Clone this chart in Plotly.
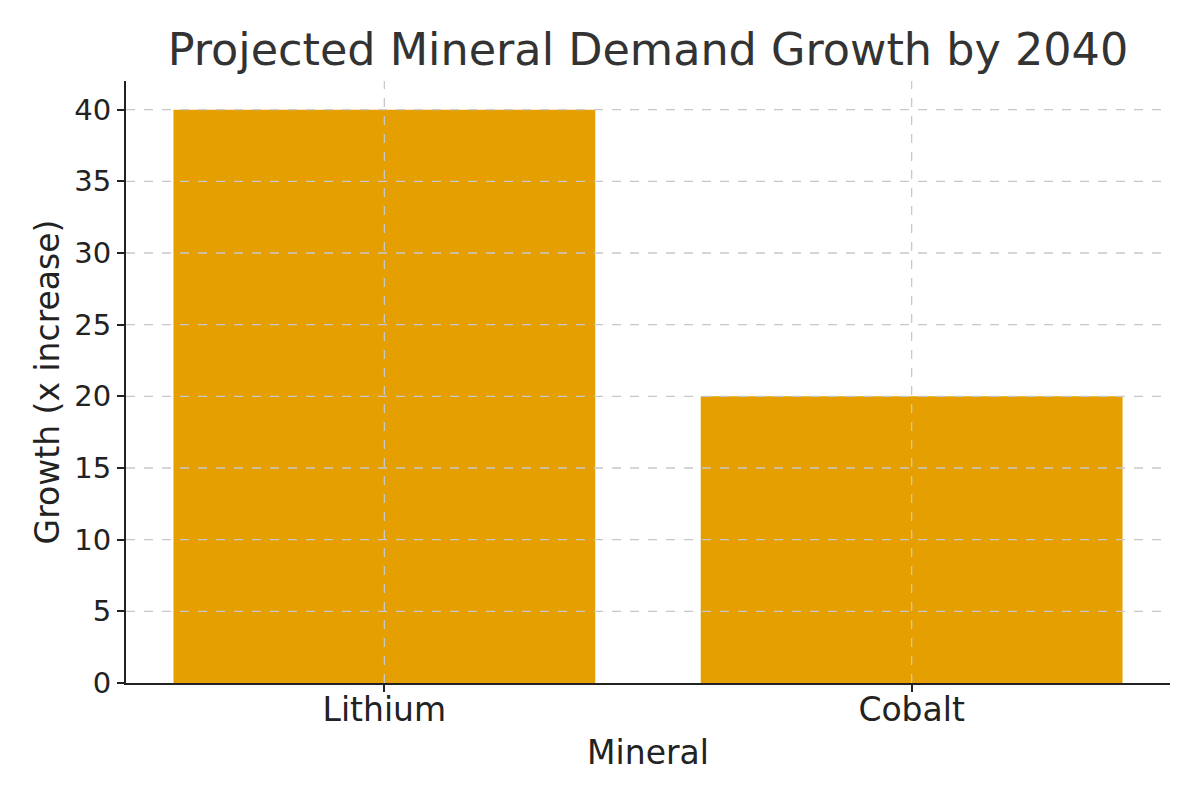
import plotly.graph_objects as go

minerals = ["Lithium", "Cobalt"]
growth = [40, 20]
y_ticks = [0, 5, 10, 15, 20, 25, 30, 35, 40]

grid = dict(color="#c8c8c8", width=1.3, dash="dash")

fig = go.Figure(go.Bar(
    x=minerals,
    y=growth,
    marker=dict(color="#E69F00", line=dict(width=0)),
    width=0.8,
))

# matplotlib draws the grid over the bars, so add it as shapes on top
shapes = []
for t in y_ticks[1:]:
    shapes.append(dict(type="line", xref="paper", yref="y", x0=0, x1=1, y0=t, y1=t,
                       line=grid, layer="above"))
for m in minerals:
    shapes.append(dict(type="line", xref="x", yref="paper", x0=m, x1=m, y0=0, y1=1,
                       line=grid, layer="above"))

# page has an 8px body margin, so offsets are pulled in by 8
fig.update_layout(
    width=1200, height=800,
    margin=dict(l=118, r=38, t=73, b=125),
    plot_bgcolor="white", paper_bgcolor="white",
    font=dict(family="DejaVu Sans", size=32, color="#222222"),
    title=dict(text="Projected Mineral Demand Growth by 2040", x=0.5333, xanchor="center",
               y=0.948, yanchor="middle", font=dict(size=44.5, color="#333333")),
    showlegend=False,
    shapes=shapes,
    bargap=0.2,
)
fig.update_xaxes(
    range=[-0.49, 1.49], showgrid=False, zeroline=False,
    showline=True, linecolor="#222222", linewidth=2,
    ticks="outside", ticklen=7, tickwidth=2, tickcolor="#222222",
    tickfont=dict(size=33, color="#222222"), ticklabelstandoff=-11,
    title=dict(text="Mineral", standoff=13, font=dict(size=33)), layer="above traces",
)
fig.update_yaxes(
    range=[0, 42], tickvals=y_ticks, showgrid=False, zeroline=False,
    showline=True, linecolor="#222222", linewidth=2,
    ticks="outside", ticklen=7, tickwidth=2, tickcolor="#222222",
    tickfont=dict(size=29, color="#222222"),
    title=dict(text="Growth (x increase)", standoff=5, font=dict(size=33)), layer="above traces",
)

fig.write_html("out.html")
